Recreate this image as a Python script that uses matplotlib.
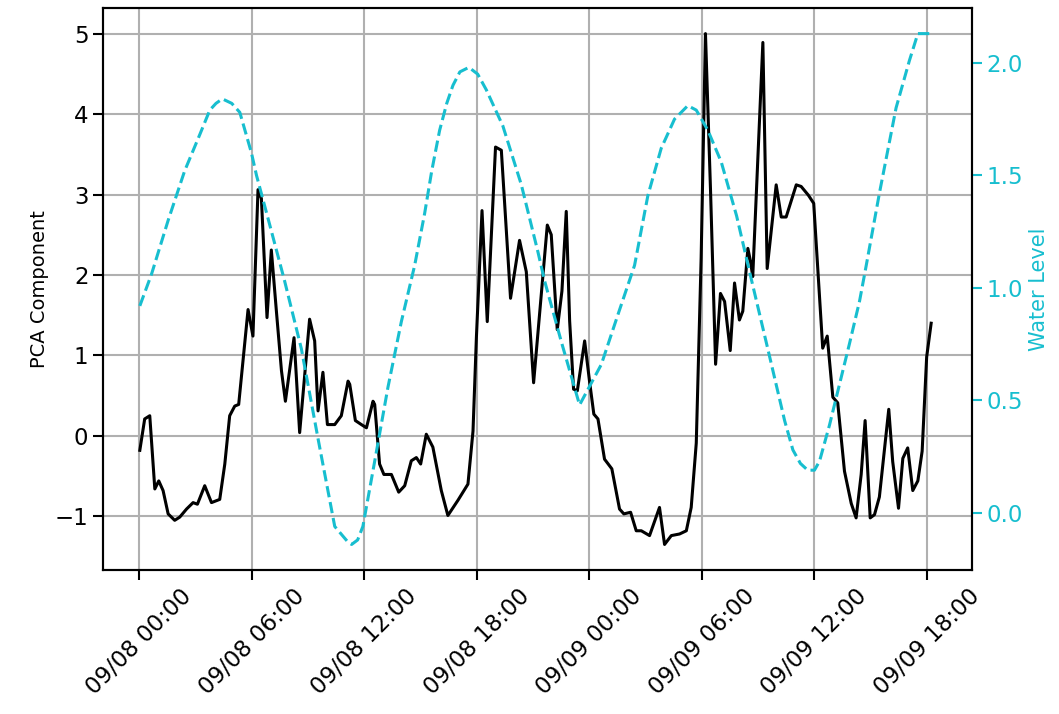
import matplotlib
matplotlib.use("Agg")
import matplotlib.pyplot as plt
import matplotlib.dates as mdates
import numpy as np
import pandas as pd

# PCA component: hours after 09/08 00:00 and values
pca_hours = [0.04, 0.30, 0.57, 0.84, 1.05, 1.28, 1.55, 1.90, 2.17, 2.53, 2.88, 3.11, 3.50, 3.86,
             4.30, 4.57, 4.83, 5.10, 5.31, 5.81, 6.07, 6.34, 6.52, 6.82, 7.05, 7.32, 7.59, 7.80,
             8.26, 8.56, 9.09, 9.36, 9.54, 9.80, 10.04, 10.43, 10.78, 11.14, 11.23, 11.53, 11.85,
             12.12, 12.47, 12.56, 12.82, 13.05, 13.45, 13.84, 14.16, 14.51, 14.78, 15.01, 15.31,
             15.66, 16.11, 16.46, 17.00, 17.53, 17.80, 17.98, 18.28, 18.56, 19.00, 19.31, 19.80,
             20.28, 20.64, 21.03, 21.76, 21.97, 22.29, 22.54, 22.77, 22.95, 23.16, 23.36, 23.75,
             24.01, 24.24, 24.46, 24.81, 25.20, 25.61, 25.84, 26.20, 26.50, 26.77, 27.21, 27.48,
             27.74, 28.01, 28.37, 28.81, 29.17, 29.43, 29.70, 29.96, 30.19, 30.46, 30.73, 30.99,
             31.21, 31.51, 31.74, 32.00, 32.18, 32.45, 32.59, 32.71, 33.25, 33.48, 33.96, 34.23,
             34.49, 35.03, 35.29, 35.68, 35.96, 36.44, 36.68, 36.98, 37.24, 37.60, 37.96, 38.22,
             38.49, 38.70, 38.97, 39.20, 39.46, 39.96, 40.17, 40.48, 40.71, 40.97, 41.24, 41.51,
             41.74, 41.98, 42.22]
pca_values = [-0.18, 0.21, 0.25, -0.66, -0.56, -0.68, -0.97, -1.05, -1.01, -0.91, -0.83, -0.85, -0.62, -0.83,
              -0.79, -0.35, 0.25, 0.37, 0.39, 1.57, 1.24, 3.06, 2.95, 1.47, 2.31, 1.55, 0.81, 0.43,
              1.22, 0.04, 1.45, 1.18, 0.31, 0.79, 0.14, 0.14, 0.25, 0.68, 0.64, 0.19, 0.14,
              0.10, 0.43, 0.39, -0.35, -0.48, -0.48, -0.70, -0.62, -0.31, -0.27, -0.35, 0.02,
              -0.14, -0.68, -0.99, -0.80, -0.60, 0.06, 1.22, 2.80, 1.42, 3.59, 3.55, 1.71,
              2.43, 2.04, 0.66, 2.62, 2.50, 1.32, 1.80, 2.79, 1.43, 0.58, 0.56, 1.18,
              0.68, 0.27, 0.21, -0.29, -0.41, -0.91, -0.97, -0.95, -1.18, -1.18, -1.24, -1.06,
              -0.89, -1.35, -1.24, -1.22, -1.18, -0.89, -0.09, 2.21, 5.00, 3.05, 0.89, 1.77,
              1.67, 1.06, 1.90, 1.44, 1.55, 2.33, 2.17, 1.98, 4.89, 2.08, 3.12, 2.72,
              2.72, 3.12, 3.10, 2.99, 2.89, 1.09, 1.24, 0.48, 0.41, -0.44, -0.84, -1.02,
              -0.48, 0.19, -1.02, -0.98, -0.76, 0.33, -0.32, -0.90, -0.28, -0.15, -0.68, -0.56,
              -0.19, 0.98, 1.40]

# Water level: hours after 09/08 00:00 and values
wl_hours = [0.04, 0.66, 1.55, 2.43, 3.23, 3.77, 4.10, 4.44, 4.94, 5.37, 5.99, 6.26, 6.87, 7.76, 8.65,
            9.54, 10.43, 11.14, 11.33, 11.65, 11.93, 12.56, 13.27, 13.98, 14.69, 15.22, 15.60, 16.02,
            16.40, 16.73, 17.10, 17.58, 18.05, 18.51, 19.39, 20.37, 21.26, 21.62, 22.51, 23.48,
            24.64, 25.52, 26.41, 27.12, 27.83, 28.54, 29.25, 29.70, 30.32, 31.03, 31.85, 32.63,
            33.51, 34.41, 34.85, 35.25, 35.64, 36.00, 36.27, 36.80, 37.33, 37.86, 38.40, 38.76,
            39.46, 40.35, 41.06, 41.51, 42.13]
wl_values = [0.92, 1.06, 1.30, 1.52, 1.68, 1.79, 1.82, 1.84, 1.82, 1.78, 1.60, 1.50, 1.31, 1.03, 0.73,
             0.33, -0.06, -0.13, -0.14, -0.12, -0.06, 0.23, 0.56, 0.85, 1.10, 1.33, 1.52, 1.70,
             1.82, 1.90, 1.96, 1.98, 1.95, 1.88, 1.72, 1.46, 1.16, 1.03, 0.76, 0.48,
             0.66, 0.88, 1.10, 1.41, 1.62, 1.75, 1.81, 1.79, 1.70, 1.56, 1.32, 1.04,
             0.73, 0.41, 0.28, 0.22, 0.19, 0.19, 0.23, 0.39, 0.57, 0.75, 0.94, 1.10,
             1.42, 1.80, 2.01, 2.13, 2.13]

start = pd.Timestamp("2023-09-08 00:00")
pca_t = start + pd.to_timedelta(pca_hours, unit="h")
wl_t = start + pd.to_timedelta(wl_hours, unit="h")

CYAN = "#17becf"

fig = plt.figure(figsize=(10.59, 7.14), dpi=100)
ax = fig.add_axes([0.0973, 0.2017, 0.8206, 0.787])
ax.plot(pca_t, pca_values, color="black", linewidth=2.2)
ax.set_ylabel("PCA Component", fontsize=14)
ax.grid(True, color="#b0b0b0", linewidth=1.5)
ax.tick_params(labelsize=16.5, width=1.5, length=7)
ax.xaxis.set_major_locator(mdates.HourLocator(byhour=[0, 6, 12, 18]))
ax.xaxis.set_major_formatter(mdates.DateFormatter("%m/%d %H:%M"))
ax.set_xlim(start - pd.Timedelta(hours=1.92), start + pd.Timedelta(hours=44.4))
for lab in ax.get_xticklabels():
    lab.set_rotation(45)
    lab.set_ha("center")
for s in ax.spines.values():
    s.set_linewidth(1.5)

ax2 = ax.twinx()
ax2.plot(wl_t, wl_values, color=CYAN, linestyle="--", linewidth=2.2)
ax2.set_ylabel("Water Level", color=CYAN, fontsize=15)
ax2.tick_params(axis="y", colors=CYAN, labelsize=16.5, width=1.5, length=7)
for s in ax2.spines.values():
    s.set_linewidth(1.5)

fig.savefig("out.png", dpi=100)
